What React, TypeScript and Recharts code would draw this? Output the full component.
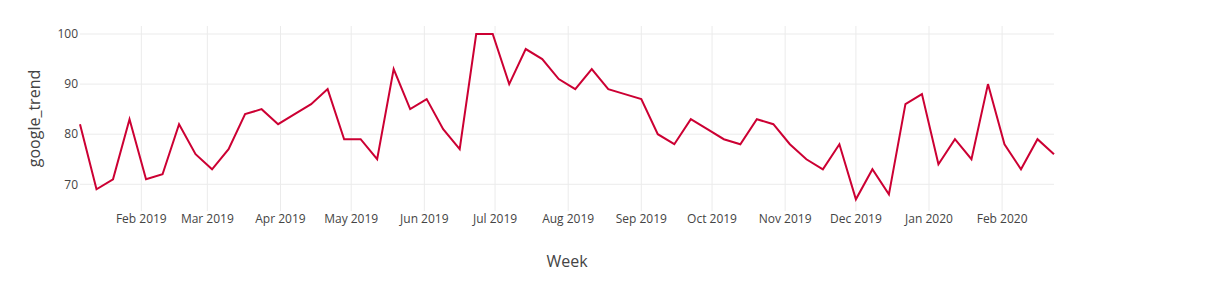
import React from "react";
import { LineChart, Line, XAxis, YAxis, ReferenceLine, Label } from "recharts";

const firstWeek = "2019-01-06";

const trendValues = [
  82, 69, 71, 83, 71, 72, 82, 76, 73, 77, 84, 85, 82, 84, 86, 89, 79, 79, 75, 93,
  85, 87, 81, 77, 100, 100, 90, 97, 95, 91, 89, 93, 89, 88, 87, 80, 78, 83, 81, 79,
  78, 83, 82, 78, 75, 73, 78, 67, 73, 68, 86, 88, 74, 79, 75, 90, 78, 73, 79, 76,
];

const monthTicks = [
  "2019-02-01", "2019-03-01", "2019-04-01", "2019-05-01", "2019-06-01",
  "2019-07-01", "2019-08-01", "2019-09-01", "2019-10-01", "2019-11-01",
  "2019-12-01", "2020-01-01", "2020-02-01",
];

const yTicks = [70, 80, 90, 100];

const monthNames = ["Jan", "Feb", "Mar", "Apr", "May", "Jun", "Jul", "Aug", "Sep", "Oct", "Nov", "Dec"];

const DAY = 24 * 3600 * 1000;
const start = Date.parse(firstWeek + "T00:00:00Z");

const data = trendValues.map((v, i) => ({ week: start + i * 7 * DAY, google_trend: v }));
const xTicks = monthTicks.map((d) => Date.parse(d + "T00:00:00Z"));

const fmtMonth = (t: number) => {
  const d = new Date(t);
  return `${monthNames[d.getUTCMonth()]} ${d.getUTCFullYear()}`;
};

const FONT = '"Open Sans", verdana, arial, sans-serif';
const GRID = "#ebebeb";

export default function App() {
  return (
    <div style={{ position: "absolute", left: 0, top: 0 }}>
      <LineChart
        width={1212}
        height={289}
        data={data}
        margin={{ top: 26, right: 158, left: 0, bottom: 0 }}
      >
        <XAxis
          dataKey="week"
          type="number"
          scale="time"
          domain={[data[0].week, data[data.length - 1].week]}
          ticks={xTicks}
          tickFormatter={fmtMonth}
          axisLine={false}
          tickLine={false}
          tickSize={0}
          tickMargin={3}
          height={78}
          interval={0}
          tick={{ fill: "#444", fontSize: 12, fontFamily: FONT }}
        >
          <Label
            value="Week"
            position="insideBottom"
            offset={22}
            style={{ fill: "#444", fontSize: 16, fontFamily: FONT }}
          />
        </XAxis>
        <YAxis
          type="number"
          domain={[64.67, 101.6]}
          ticks={yTicks}
          width={80}
          axisLine={false}
          tickLine={false}
          tickSize={0}
          tickMargin={2}
          tick={{ fill: "#444", fontSize: 12, fontFamily: FONT }}
        >
          <Label
            value="google_trend"
            angle={-90}
            position="insideLeft"
            offset={0}
            dx={34}
            style={{ fill: "#444", fontSize: 16, fontFamily: FONT, textAnchor: "middle" }}
          />
        </YAxis>
        {yTicks.map((y) => (
          <ReferenceLine key={`y${y}`} y={y} stroke={GRID} strokeWidth={1} />
        ))}
        {xTicks.map((x) => (
          <ReferenceLine key={`x${x}`} x={x} stroke={GRID} strokeWidth={1} />
        ))}
        <Line
          type="linear"
          dataKey="google_trend"
          stroke="#CC0033"
          strokeWidth={2}
          dot={false}
          isAnimationActive={false}
        />
      </LineChart>
    </div>
  );
}
